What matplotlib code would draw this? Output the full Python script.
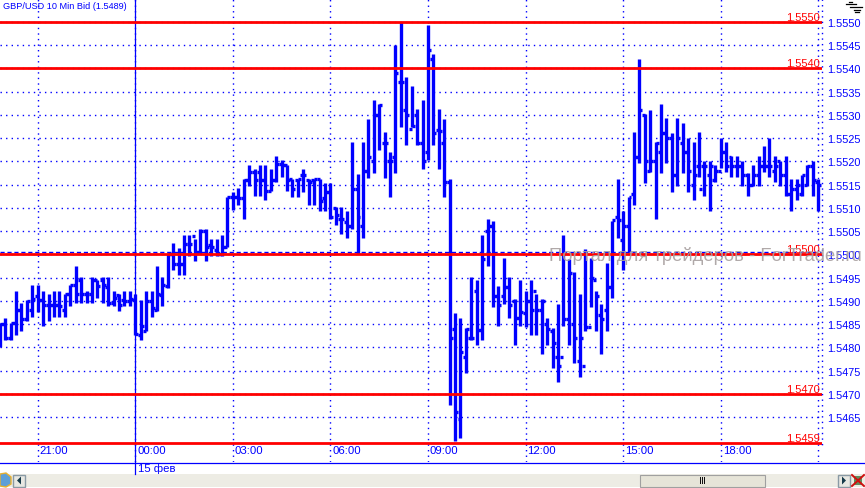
import matplotlib
matplotlib.use("Agg")
import matplotlib.pyplot as plt
import numpy as np
from matplotlib.collections import LineCollection
from matplotlib.patches import Rectangle, Polygon
from matplotlib.lines import Line2D
from matplotlib.transforms import ScaledTranslation

plt.rcParams['font.family'] = ['Liberation Sans', 'DejaVu Sans']

# Prices are written as the four decimals after "1." (5485.2 = 1.54852)
highs = [5485.2,5486.4,5485.2,5492.2,5489.5,5490.2,5493.4,5493.4,5492.2,5491.4,5492.2,5492.2,5491.4,5493.4,5497.4,5495.2,5492.2,5495.2,5494.4,5495.2,
         5495.2,5492.2,5491.4,5492.2,5492.2,5491.4,5490.2,5492.2,5492.2,5497.4,5495.2,5500.0,5502.4,5501.3,5504.1,5504.1,5503.3,5505.4,5505.4,5503.3,
         5503.3,5504.1,5512.4,5513.3,5514.3,5516.1,5519.3,5518.4,5519.3,5519.3,5518.4,5521.1,5520.2,5519.3,
         5516.2,5516.2,5518.4,5516.2,5516.2,5516.2,5515.4,5515.4,5510.1,5510.1,5509.3,5524.1,5517.3,5524.1,5529.2,5533.1,5532.3,5526.2,5522.1,5545.1,5550.0,
         5538.2,5536.1,5531.2,5533.1,5549.3,5543.1,5531.2,5529.2,5516.2,
         5487.3,5486.4,5484.2,5495.1,5494.4,5504.2,5507.6,5507.1,5493.2,5499.2,5495.1,5490.3,5494.4,5492.1,5494.4,5491.4,5490.3,5486.4,5484.2,5489.4,5504.2,
         5499.0,5496.2,5491.4,5501.2,5499.2,5492.1,5489.4,5498.2,
         5507.1,5516.2,5509.3,5512.3,5526.2,5542.1,5530.1,5531.1,5524.1,5532.3,5529.3,5526.1,5529.3,5528.2,5525.1,5524.1,5526.2,5520.1,5520.1,5519.2,5525.1,
         5524.1,5521.1,5521.1,5520.1,5517.5,5519.1,5521.1,5523.2,5525.1,5521.1,5520.1,5521.1,5516.1,5516.1,5517.1,5519.1,5520.1,5516.1]
lows = [5480.0,5481.6,5481.6,5482.7,5483.6,5485.7,5486.6,5487.6,5484.6,5485.7,5486.6,5486.6,5486.6,5488.8,5489.5,5489.5,5489.5,5489.5,5490.6,5489.5,
        5488.8,5488.8,5487.7,5488.8,5488.8,5482.7,5481.6,5483.6,5486.6,5487.7,5488.8,5492.7,5496.6,5495.6,5495.6,5499.7,5498.6,5500.0,5498.6,5499.7,
        5499.7,5499.7,5501.6,5509.5,5510.6,5507.6,5514.7,5512.5,5512.5,5511.6,5513.6,5515.6,5516.6,5513.6,
        5512.4,5512.4,5513.5,5510.5,5510.5,5509.4,5509.4,5507.5,5506.4,5504.4,5503.4,5505.5,5500.0,5503.4,5516.4,5517.5,5522.5,5516.4,5512.4,5517.5,5527.3,
        5523.4,5527.4,5523.4,5518.4,5520.3,5523.4,5518.4,5512.4,5467.6,
        5459.9,5460.5,5474.4,5481.6,5480.5,5481.6,5497.4,5488.6,5484.6,5489.4,5486.4,5480.5,5484.6,5484.4,5482.6,5482.6,5478.6,5480.5,5475.6,5472.6,5484.6,
        5480.5,5476.7,5473.7,5483.5,5488.6,5483.5,5478.6,5483.5,
        5490.5,5503.4,5496.6,5500.5,5510.5,5519.6,5515.4,5517.6,5507.5,5517.5,5519.6,5513.5,5514.6,5517.5,5513.5,5511.6,5516.6,5512.5,5509.4,5515.5,5518.5,
        5517.6,5516.6,5516.6,5514.6,5512.5,5514.6,5514.6,5517.6,5516.6,5515.5,5514.6,5512.5,5509.4,5511.6,5512.6,5514.6,5512.5,5509.4]
opens = [5483.0,5485.0,5482.0,5485.2,5488.0,5486.0,5488.0,5491.0,5490.2,5489.0,5489.0,5489.0,5488.0,5491.4,5493.4,5494.4,5491.5,5491.5,5494.4,5494.4,
         5493.0,5489.5,5491.2,5490.2,5490.0,5490.2,5482.6,5483.6,5490.0,5488.0,5491.3,5493.2,5500.0,5498.0,5498.0,5502.3,5504.0,5500.5,5505.0,5502.0,
         5501.0,5500.0,5501.5,5512.4,5512.4,5512.0,5516.0,5517.6,5517.6,5516.0,5513.6,5516.0,5519.5,5519.3,
         5516.2,5516.0,5517.0,5516.0,5516.0,5516.2,5512.0,5513.5,5510.0,5507.5,5507.0,5506.0,5514.0,5506.0,5518.0,5520.0,5530.0,5524.0,5520.0,5520.9,5537.0,
         5531.0,5527.0,5530.0,5524.0,5522.0,5542.0,5526.8,5524.0,5515.6,
         5484.0,5464.5,5478.0,5482.0,5492.0,5483.7,5505.0,5506.0,5491.0,5491.0,5493.0,5490.0,5486.4,5487.3,5490.0,5492.0,5488.0,5485.0,5483.4,5478.0,5478.0,
         5486.0,5485.0,5477.0,5476.0,5484.4,5494.4,5487.0,5488.0,
         5493.0,5508.0,5503.0,5506.0,5513.0,5521.0,5530.0,5518.0,5520.0,5522.0,5526.0,5525.0,5517.0,5524.0,5522.0,5515.0,5519.0,5519.0,5517.0,5516.0,5518.0,
         5522.0,5521.0,5519.0,5519.0,5517.0,5515.0,5517.0,5519.0,5519.0,5518.0,5520.0,5517.0,5513.0,5514.0,5513.0,5515.0,5519.0,5515.5]
closes = [5484.9,5482.0,5485.2,5488.0,5486.0,5490.0,5490.3,5490.2,5489.0,5489.0,5489.0,5488.8,5491.4,5493.4,5491.4,5491.5,5491.5,5494.4,5493.2,5493.3,
          5489.5,5490.5,5489.0,5490.0,5490.3,5482.8,5484.6,5490.0,5488.5,5491.5,5493.5,5500.0,5498.0,5498.0,5502.3,5502.3,5500.5,5505.0,5501.6,5501.6,
          5500.0,5501.5,5512.4,5512.4,5512.0,5516.0,5517.6,5516.0,5516.0,5513.6,5516.0,5519.5,5519.3,5516.0,
          5514.0,5516.2,5517.0,5515.5,5516.2,5511.5,5513.5,5508.0,5508.5,5507.5,5506.0,5514.0,5508.0,5518.0,5520.9,5530.0,5532.0,5524.0,5520.0,5539.0,5537.0,
          5530.0,5527.5,5524.0,5520.0,5544.0,5526.0,5526.5,5515.6,5482.0,
          5466.0,5479.0,5484.0,5482.0,5483.7,5499.0,5506.0,5491.0,5489.0,5493.0,5489.0,5486.4,5487.6,5490.0,5488.0,5488.0,5490.0,5484.0,5481.0,5476.0,5486.0,
          5496.0,5482.0,5482.0,5484.4,5495.0,5491.0,5486.0,5493.0,
          5507.3,5507.3,5506.0,5512.3,5521.0,5531.0,5520.0,5520.0,5524.0,5526.0,5525.0,5517.0,5525.0,5522.0,5518.0,5517.0,5514.0,5519.0,5519.0,5518.0,5522.0,
          5519.0,5519.0,5519.0,5517.0,5515.0,5517.0,5519.0,5519.0,5519.0,5519.0,5517.0,5513.0,5514.0,5515.0,5517.0,5519.0,5516.0,5515.0]

price_ticks = [5550,5545,5540,5535,5530,5525,5520,5515,5510,5505,5500,5495,5490,5485,5480,5475,5470,5465]
level_values = [5550.0,5540.0,5500.0,5470.0,5459.5]
level_labels = ['1.5550','1.5540','1.5500','1.5470','1.5459']
time_ticks = [7,25,43,61,79,97,115,133,151]
time_labels = ['21:00','00:00','03:00','06:00','09:00','12:00','15:00','18:00','']
title_text = 'GBP/USD 10 Min Bid (1.5489)'
date_label = '15 фев'
watermark = 'Портал для трейдеров - ForTrader.ru'

BLUE = '#0000FF'
RED = '#FF0000'
W, H = 865, 489
fig = plt.figure(figsize=(W/100, H/100), dpi=100, facecolor='white')

def px(x, y):
    return x / W, 1 - y / H

def price(v):
    return 1 + np.asarray(v, dtype=float) / 1e4

# axes spans px x 0..822, y 0..463
ax = fig.add_axes([0, 1-463/H, 822/W, 463/H])
ax.set_facecolor('white')
ax.set_xlim(0.04, 151.7)
ax.set_ylim(1.545533, 1.555490)
for s in ax.spines.values():
    s.set_visible(False)

n = len(highs)
idx = np.arange(n)
H_, L_, O_, C_ = price(highs), price(lows), price(opens), price(closes)

# grid
ax.set_yticks(price(price_ticks))
ax.set_yticklabels([f'{p:.4f}' for p in price(price_ticks)], color=BLUE, fontsize=7.8)
ax.yaxis.tick_right()
ax.tick_params(axis='y', length=0, pad=4)
ax.set_xticks(time_ticks)
ax.set_xticklabels(time_labels, color=BLUE, fontsize=8.2, ha='left')
ax.tick_params(axis='x', length=0, pad=-12)
off = ScaledTranslation(2/100, 0, fig.dpi_scale_trans)
for lab in ax.get_xticklabels():
    lab.set_transform(lab.get_transform() + off)
ax.grid(True, color=BLUE, linestyle=(0, (1, 3)), linewidth=1.0, zorder=1)
ax.set_axisbelow(True)

# session line and current price
ax.axvline(25, color=BLUE, linewidth=0.9, zorder=1.5)
ax.axhline(1.55005, color=BLUE, linewidth=1.0, linestyle=(0, (3, 2)), zorder=1.5)

# HLC bars
stems = [[(i, l), (i, h)] for i, l, h in zip(idx, L_, H_)]
ax.add_collection(LineCollection(stems, colors=BLUE, linewidths=2.4, capstyle='butt', zorder=3))
lt = [[(i-0.55, o), (i, o)] for i, o in zip(idx, O_)]
rt = [[(i, c), (i+0.55, c)] for i, c in zip(idx, C_)]
ax.add_collection(LineCollection(lt + rt, colors=BLUE, linewidths=2.4, capstyle='butt', zorder=3))

# support / resistance levels
for v, t in zip(price(level_values), level_labels):
    ax.axhline(v, color=RED, linewidth=2.0, zorder=4)
    ax.annotate(t, (151.3, v), xytext=(0, 0), textcoords='offset points',
                color=RED, fontsize=8, ha='right', va='bottom', zorder=5)

# Title, date, watermark
fig.text(*px(3, 6.5), title_text, color=BLUE, fontsize=6.6, ha='left', va='center')
fig.text(*px(138, 469), date_label, color=BLUE, fontsize=8.2, ha='left', va='center')
fig.text(*px(549, 256), watermark, color='#A8A0A0', alpha=0.9, fontsize=13.2, ha='left', va='center',
         zorder=10)

# Frame lines outside axes
fig.add_artist(Line2D([0, 1], [1-463.5/H]*2, color=BLUE, linewidth=0.9, transform=fig.transFigure))
fig.add_artist(Line2D([135.3/W]*2, [1-463/H, 1-475/H], color=BLUE, linewidth=0.9, transform=fig.transFigure))
fig.add_artist(Line2D([822/W]*2, [1-0/H, 1-449/H], color=BLUE, linewidth=1.0, linestyle=(0, (1, 3)),
                      transform=fig.transFigure, zorder=2))

# Window chrome at the bottom
def rect(x0, y0, x1, y1, **kw):
    fig.add_artist(Rectangle(px(x0, y1), (x1-x0)/W, (y1-y0)/H, transform=fig.transFigure, **kw))
rect(0, 475, 865, 488, facecolor='#EDECE4', edgecolor='none')
rect(640, 475.5, 765, 487.5, facecolor='#E6E4D8', edgecolor='#A0A0A0', linewidth=0.8)
for xx in (700, 702, 704):
    rect(xx, 478, xx+1, 485, facecolor='#111111', edgecolor='none')
rect(13, 475.5, 25, 487.5, facecolor='#E8E8E2', edgecolor='#8A9AA5', linewidth=1)
rect(838, 475.5, 850, 487.5, facecolor='#E8E8E2', edgecolor='#8A9AA5', linewidth=1)
fig.add_artist(Polygon([px(21, 477.5), px(21, 485.5), px(17, 481.5)], closed=True, facecolor='#163A4A', transform=fig.transFigure))
fig.add_artist(Polygon([px(842, 477.5), px(842, 485.5), px(846, 481.5)], closed=True, facecolor='#163A4A', transform=fig.transFigure))
fig.add_artist(Polygon([px(0, 475), px(6, 474), px(11, 478), px(11, 485), px(6, 488), px(0, 487)], closed=True,
                       facecolor='#5E9FD8', edgecolor='#E8B030', linewidth=1, transform=fig.transFigure))
fig.add_artist(Polygon([px(854, 477), px(862, 477), px(862, 486), px(854, 486)], closed=True,
                       facecolor='#5F8F60', edgecolor='none', transform=fig.transFigure))
for a, b in [((852, 476), (864, 487)), ((864, 476), (852, 487))]:
    fig.add_artist(Line2D([a[0]/W, b[0]/W], [1-a[1]/H, 1-b[1]/H], color='#D01010', linewidth=1.4, transform=fig.transFigure))

# Top-right icon
icon = [((846, 5), (856, 5)), ((849, 3), (852, 3)), ((850, 8), (862, 8)), ((854, 11), (860, 11)), ((855, 13), (859, 13))]
for a, b in icon:
    fig.add_artist(Line2D([a[0]/W, b[0]/W], [1-a[1]/H, 1-b[1]/H], color='black', linewidth=0.9, transform=fig.transFigure))

fig.savefig('out.png', dpi=100, facecolor='white')
